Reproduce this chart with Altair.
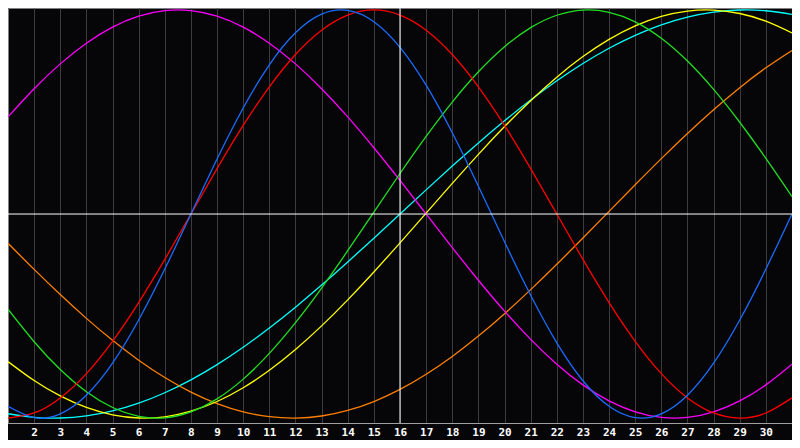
import altair as alt
import pandas as pd

# day of month shown on the x axis
days = list(range(1, 32))
today = [16]

# cycle values, one per day (1..31)
physical = [-0.9423, -0.9977, -0.9791, -0.8879, -0.7311, -0.5196, -0.2698, 0.0,
            0.2698, 0.5196, 0.7311, 0.8879, 0.9791, 0.9977, 0.9423, 0.8170,
            0.6312, 0.3984, 0.1362, -0.1362, -0.3984, -0.6312, -0.8170, -0.9423,
            -0.9977, -0.9791, -0.8879, -0.7311, -0.5196, -0.2698, 0.0]
emotional = [-1.0, -0.9749, -0.9010, -0.7818, -0.6235, -0.4339, -0.2225, 0.0,
             0.2225, 0.4339, 0.6235, 0.7818, 0.9010, 0.9749, 1.0, 0.9749,
             0.9010, 0.7818, 0.6235, 0.4339, 0.2225, 0.0, -0.2225, -0.4339,
             -0.6235, -0.7818, -0.9010, -0.9749, -1.0, -0.9749, -0.9010]
intellectual = [-0.4667, -0.6257, -0.7620, -0.8708, -0.9481, -0.9911, -0.9984, -0.9695,
                -0.9057, -0.8090, -0.6831, -0.5326, -0.3628, -0.1798, 0.0096, 0.1985,
                0.3805, 0.5486, 0.6969, 0.8200, 0.9135, 0.9740, 0.9993, 0.9884,
                0.9419, 0.8613, 0.7495, 0.6107, 0.4497, 0.2726, 0.0856]
intuitive = [0.4760, 0.6142, 0.7357, 0.8372, 0.9158, 0.9694, 0.9966, 0.9966,
             0.9694, 0.9158, 0.8372, 0.7357, 0.6142, 0.4760, 0.3247, 0.1646,
             0.0, -0.1646, -0.3247, -0.4760, -0.6142, -0.7357, -0.8372, -0.9158,
             -0.9694, -0.9966, -0.9966, -0.9694, -0.9158, -0.8372, -0.7357]
aesthetic = [-0.7230, -0.8159, -0.8913, -0.9479, -0.9842, -0.9995, -0.9935, -0.9664,
             -0.9187, -0.8513, -0.7658, -0.6641, -0.5482, -0.4206, -0.2839, -0.1412,
             0.0044, 0.1499, 0.2924, 0.4285, 0.5554, 0.6706, 0.7714, 0.8559,
             0.9221, 0.9686, 0.9945, 0.9992, 0.9826, 0.9450, 0.8874]
awareness = [-0.1435, -0.2714, -0.3947, -0.5113, -0.6191, -0.7163, -0.8013, -0.8725,
             -0.9288, -0.9692, -0.9931, -0.9999, -0.9897, -0.9625, -0.9188, -0.8594,
             -0.7851, -0.6978, -0.5983, -0.4886, -0.3706, -0.2462, -0.1175, 0.0131,
             0.1435, 0.2714, 0.3947, 0.5113, 0.6191, 0.7163, 0.8013]
spiritual = [-0.9786, -0.9960, -0.9996, -0.9890, -0.9646, -0.9267, -0.8757, -0.8125,
             -0.7378, -0.6528, -0.5586, -0.4566, -0.3482, -0.2349, -0.1183, 0.0,
             0.1183, 0.2349, 0.3482, 0.4566, 0.5586, 0.6528, 0.7378, 0.8125,
             0.8757, 0.9267, 0.9646, 0.9890, 0.9996, 0.9960, 0.9786]

series = {
    "spiritual": spiritual,
    "awareness": awareness,
    "aesthetic": aesthetic,
    "intuitive": intuitive,
    "intellectual": intellectual,
    "emotional": emotional,
    "physical": physical,
}
colors = ["#00ffff", "#ff8000", "#ffff00", "#ff00ff", "#22e022", "#ff0000", "#1a6cff"]

rows = []
for name, vals in series.items():
    for d, v in zip(days, vals):
        rows.append({"day": d, "value": v, "cycle": name})
df = pd.DataFrame(rows)

x_scale = alt.Scale(domain=[1, 31], nice=False, zero=False)
y_scale = alt.Scale(domain=[-1.024, 1.0095], nice=False, zero=False)
x_axis = alt.Axis(values=list(range(2, 31)), grid=True, gridColor="#3c3c3c",
                  gridWidth=1, ticks=False, domainColor="#a0a0a0",
                  labelColor="white", labelFont="DejaVu Sans Mono",
                  labelFontWeight="bold", labelFontSize=11, labelPadding=3,
                  labelFlush=False)

lines = alt.Chart(df).mark_line(strokeWidth=1.3, interpolate="natural").encode(
    x=alt.X("day:Q", scale=x_scale, title=None, axis=x_axis),
    y=alt.Y("value:Q", scale=y_scale, axis=None),
    color=alt.Color("cycle:N", scale=alt.Scale(domain=list(series.keys()), range=colors),
                    legend=None),
)

today_rule = alt.Chart(pd.DataFrame({"day": today})).mark_rule(
    color="white", strokeWidth=1
).encode(x=alt.X("day:Q", scale=x_scale, title=None, axis=x_axis))

zero_rule = alt.Chart(pd.DataFrame({"value": [0]})).mark_rule(
    color="white", strokeWidth=1
).encode(y=alt.Y("value:Q", scale=y_scale, axis=None))

chart = alt.layer(lines, today_rule, zero_rule).properties(
    width=784, height=415,
    autosize=alt.AutoSizeParams(type="none"),
    padding={"left": 0, "top": 0, "right": 0, "bottom": 17},
    background="#060608",
).configure_view(
    fill="#060608", stroke="#808080", strokeWidth=1
)

chart.save("out.html", embed_options={"renderer": "svg", "actions": False})
